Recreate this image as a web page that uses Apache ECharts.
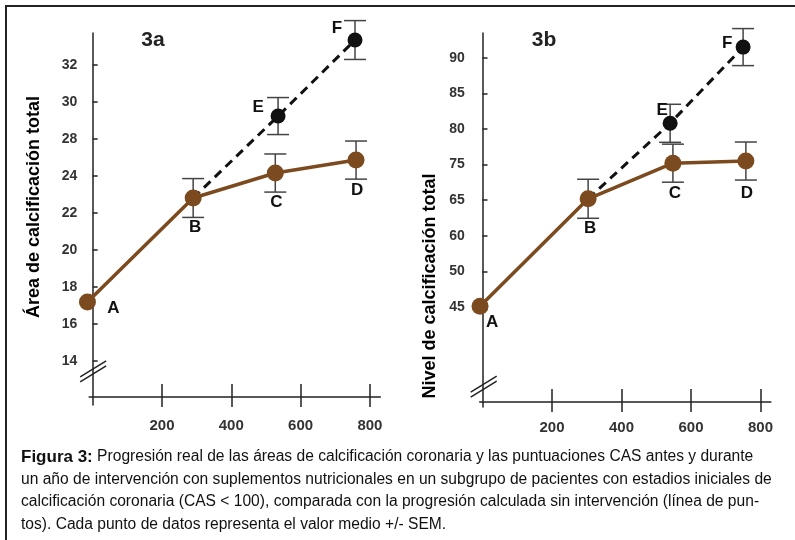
<!DOCTYPE html>
<html>
<head>
<meta charset="utf-8">
<script src="https://cdn.jsdelivr.net/npm/echarts@6/dist/echarts.min.js"></script>
<style>
  html, body { margin: 0; padding: 0; background: #fff; }
  #main { width: 795px; height: 540px; }
</style>
</head>
<body>
<div id="main"></div>
<script>
// tick values along the drawn scale and the labels printed on them
const xTicks = [200, 400, 600, 800];
const yTicksA = [14, 16, 18, 20, 22, 24, 26, 28, 30];
const yLabelsA = ['14', '16', '18', '20', '22', '24', '28', '30', '32'];
const yTicksB = [45, 50, 55, 60, 65, 70, 75, 80];
const yLabelsB = ['45', '50', '60', '65', '75', '80', '85', '90'];

// 3a - real progression (A-D) and calculated progression (B-E-F)
const realNames = ['A', 'B', 'C', 'D'];
const calcNames = ['B', 'E', 'F'];
const aRealX = [-15, 290, 527, 760];
const aRealY = [17.19, 22.81, 24.16, 24.86];
const aRealErr = [0, 1.05, 1.03, 1.03];
const aCalcX = [290, 535, 757];
const aCalcY = [22.81, 27.24, 31.35];
const aCalcErr = [0, 1.0, 1.05];

// 3b
const bRealX = [-7, 304, 548, 758];
const bRealY = [45.1, 60.2, 65.2, 65.5];
const bRealErr = [0, 2.74, 2.67, 2.67];
const bCalcX = [304, 540, 750];
const bCalcY = [60.2, 70.8, 81.5];
const bCalcErr = [0, 2.67, 2.6];

// axis break position (on the y scale)
const breakA = 13.46;
const breakB = 33.9;

// where the letters sit around each point (px)
const offRealA = [[26, 6], [2, 29], [1, 29], [1, 30]];
const offCalcA = [null, [-20, -9], [-18, -12]];
const offRealB = [[12, 16], [2, 30], [2, 30], [1, 32]];
const offCalcB = [null, [-8, -13], [-16, -4]];

const brown = '#7b4a1e';
const ink = '#222';
const font = 'Liberation Sans, Arial, Helvetica, sans-serif';

var chart = echarts.init(document.getElementById('main'));

function tickLabel(ticks, labels) {
  return function (v) {
    var i = ticks.indexOf(Math.round(v * 100) / 100);
    return i >= 0 ? labels[i] : '';
  };
}

function makeY(idx, min, max, ticks, labels, margin) {
  return {
    type: 'value', gridIndex: idx, min: min, max: max,
    axisLine: { show: true, lineStyle: { color: ink, width: 1.5 } },
    axisTick: { show: true, inside: true, length: 5, customValues: ticks, lineStyle: { color: ink, width: 1.5 } },
    axisLabel: {
      customValues: ticks, formatter: tickLabel(ticks, labels), margin: margin,
      color: '#333', fontWeight: 'bold', fontSize: 14, fontFamily: font
    },
    splitLine: { show: false }
  };
}

function makeX(idx, min, offset, margin, inner) {
  return {
    type: 'value', gridIndex: idx, min: min, max: 830, position: 'bottom', offset: offset,
    axisLine: { show: !inner, onZero: false, lineStyle: { color: ink, width: 1.5 } },
    axisTick: { show: true, inside: inner, length: inner ? 13 : 10, customValues: xTicks, lineStyle: { color: ink, width: 1.5 } },
    axisLabel: {
      show: !inner, customValues: xTicks, margin: margin,
      color: '#333', fontWeight: 'bold', fontSize: 15, fontFamily: font
    },
    splitLine: { show: false }
  };
}

function errData(xs, ys, es) {
  var out = [];
  xs.forEach(function (x, i) { if (es[i] > 0) out.push([x, ys[i], es[i]]); });
  return out;
}

function errSeries(xi, xs, ys, es) {
  return {
    type: 'custom', xAxisIndex: xi, yAxisIndex: xi / 2, z: 1, silent: true,
    data: errData(xs, ys, es),
    encode: { x: 0, y: 1 },
    renderItem: function (params, api) {
      var x = api.value(0), y = api.value(1), e = api.value(2);
      var top = api.coord([x, y + e]);
      var bot = api.coord([x, y - e]);
      var st = { stroke: '#444', lineWidth: 1.5 };
      return {
        type: 'group',
        children: [
          { type: 'line', shape: { x1: top[0], y1: top[1], x2: bot[0], y2: bot[1] }, style: st },
          { type: 'line', shape: { x1: top[0] - 11, y1: top[1], x2: top[0] + 11, y2: top[1] }, style: st },
          { type: 'line', shape: { x1: bot[0] - 11, y1: bot[1], x2: bot[0] + 11, y2: bot[1] }, style: st }
        ]
      };
    }
  };
}

function breakSeries(xi, xmin, yv) {
  return {
    type: 'custom', xAxisIndex: xi, yAxisIndex: xi / 2, z: 5, silent: true,
    data: [[xmin, yv]],
    renderItem: function (params, api) {
      var p = api.coord([api.value(0), api.value(1)]);
      var st = { stroke: ink, lineWidth: 1.5 };
      return {
        type: 'group',
        children: [
          { type: 'line', shape: { x1: p[0] - 9, y1: p[1] + 6, x2: p[0] + 17, y2: p[1] - 10 }, style: st },
          { type: 'line', shape: { x1: p[0] - 9, y1: p[1] + 11, x2: p[0] + 17, y2: p[1] - 5 }, style: st }
        ]
      };
    }
  };
}

function letter(name, off) {
  return {
    show: true, position: 'inside', formatter: name, offset: off,
    color: '#111', fontWeight: 'bold', fontSize: 17, fontFamily: font
  };
}

function realSeries(xi, xs, ys, offs) {
  return {
    type: 'line', xAxisIndex: xi, yAxisIndex: xi / 2, z: 3, clip: false,
    symbol: 'circle', symbolSize: 17,
    itemStyle: { color: brown },
    lineStyle: { color: brown, width: 3.5 },
    data: xs.map(function (x, i) {
      return { value: [x, ys[i]], label: letter(realNames[i], offs[i]) };
    })
  };
}

function calcSeries(xi, xs, ys, offs) {
  return {
    type: 'line', xAxisIndex: xi, yAxisIndex: xi / 2, z: 2, clip: false,
    symbol: 'circle', symbolSize: 15,
    itemStyle: { color: '#111' },
    lineStyle: { color: '#111', width: 3, type: [9, 6] },
    data: xs.map(function (x, i) {
      if (!offs[i]) return { value: [x, ys[i]], symbol: 'none' };
      return { value: [x, ys[i]], label: letter(calcNames[i], offs[i]) };
    })
  };
}

var caption = [
  '{b|Figura 3:} Progresión real de las áreas de calcificación coronaria y las puntuaciones CAS antes y durante',
  'un año de intervención con suplementos nutricionales en un subgrupo de pacientes con estadios iniciales de',
  'calcificación coronaria (CAS < 100), comparada con la progresión calculada sin intervención (línea de pun-',
  'tos). Cada punto de datos representa el valor medio +/- SEM.'
];

var graphics = [
  { type: 'line', shape: { x1: 5, y1: 6, x2: 795, y2: 6 }, style: { stroke: ink, lineWidth: 2 } },
  { type: 'line', shape: { x1: 6, y1: 5, x2: 6, y2: 540 }, style: { stroke: ink, lineWidth: 2 } },
  { type: 'text', x: 153, y: 40, style: { text: '3a', font: 'bold 21px ' + font, fill: '#222', align: 'center', verticalAlign: 'middle' } },
  { type: 'text', x: 544, y: 40, style: { text: '3b', font: 'bold 21px ' + font, fill: '#222', align: 'center', verticalAlign: 'middle' } },
  { type: 'text', x: 34, y: 207, rotation: Math.PI / 2, style: { text: 'Área de calcificación total', font: 'bold 18px ' + font, fill: '#000', align: 'center', verticalAlign: 'middle' } },
  { type: 'text', x: 430, y: 286, rotation: Math.PI / 2, style: { text: 'Nivel de calcificación total', font: 'bold 18px ' + font, fill: '#000', align: 'center', verticalAlign: 'middle' } }
];
caption.forEach(function (line, i) {
  graphics.push({
    type: 'text', x: 21, y: 457 + i * 22.5,
    style: {
      text: line, font: '15.6px ' + font, fill: '#111', verticalAlign: 'middle',
      rich: { b: { font: 'bold 17px ' + font, fill: '#111' } }
    }
  });
});

var option = {
  animation: false,
  backgroundColor: '#fff',
  grid: [
    { left: 89.2, right: 414.7, top: 33, bottom: 135 },
    { left: 479.7, right: 24.1, top: 33, bottom: 133 }
  ],
  xAxis: [
    makeX(0, -10, -8, 21, false),
    makeX(0, -10, -8, 21, true),
    makeX(1, -8, -5, 18, false),
    makeX(1, -8, -5, 18, true)
  ],
  yAxis: [
    makeY(0, 11.62, 31.73, yTicksA, yLabelsA, 12),
    makeY(1, 30.96, 83.48, yTicksB, yLabelsB, 15)
  ],
  series: [
    errSeries(0, aRealX, aRealY, aRealErr),
    errSeries(0, aCalcX, aCalcY, aCalcErr),
    calcSeries(0, aCalcX, aCalcY, offCalcA),
    realSeries(0, aRealX, aRealY, offRealA),
    breakSeries(0, -10, breakA),
    errSeries(2, bRealX, bRealY, bRealErr),
    errSeries(2, bCalcX, bCalcY, bCalcErr),
    calcSeries(2, bCalcX, bCalcY, offCalcB),
    realSeries(2, bRealX, bRealY, offRealB),
    breakSeries(2, -8, breakB)
  ],
  graphic: graphics
};

chart.setOption(option);
</script>
</body>
</html>
